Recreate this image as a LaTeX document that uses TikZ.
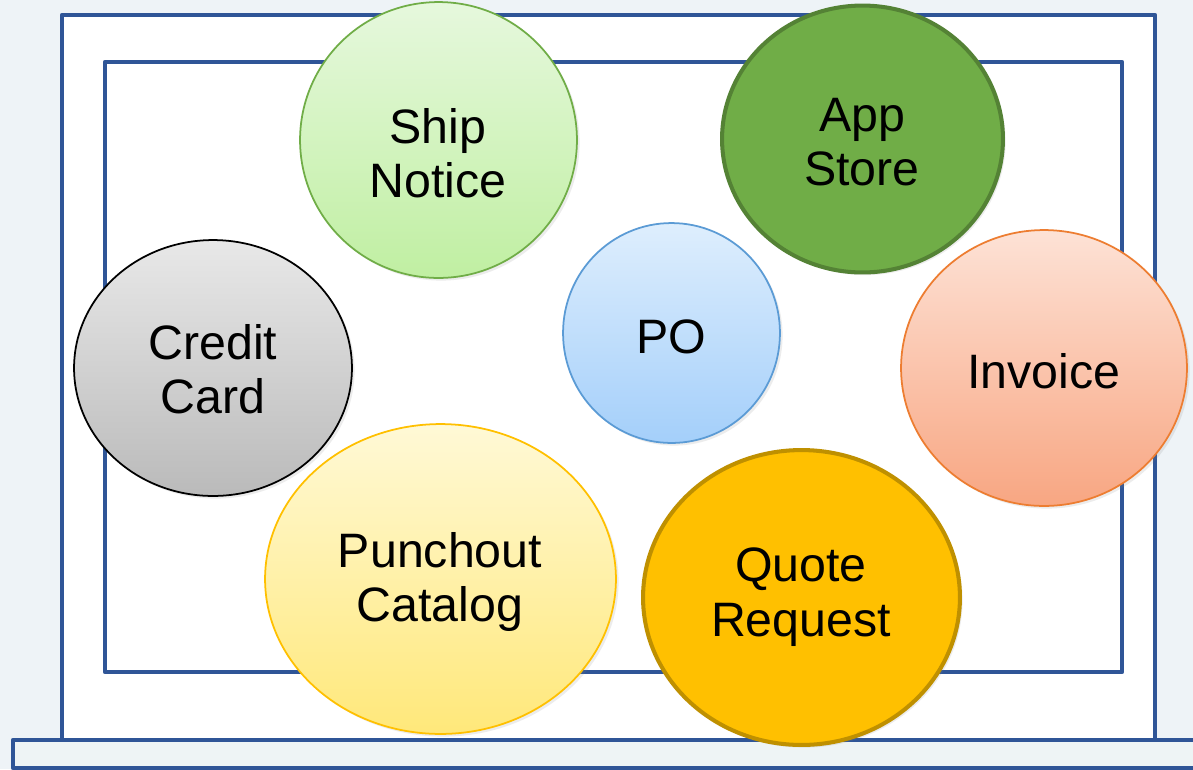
\documentclass[tikz,border=0pt]{standalone}
\usepackage{fontspec}
\setmainfont{Liberation Sans}
\usetikzlibrary{shapes.geometric,shadows}

\definecolor{backblue}{HTML}{EEF3F7}
\definecolor{baseblue}{HTML}{EEF4F5}
\definecolor{frameblue}{HTML}{2F5597}

\begin{document}
\begin{tikzpicture}[x=0.02cm,y=-0.02cm,
  frame/.style={draw=frameblue,line width=2.6pt,line join=round},
  bubble/.style 2 args={ellipse,inner sep=0pt,
    minimum width=#1*0.04cm,minimum height=#2*0.04cm,
    drop shadow={opacity=0.15,shadow xshift=1.5pt,shadow yshift=-1.5pt}},
  txt/.style={align=center,font=\fontsize{27.5}{31}\selectfont}]

\useasboundingbox (0,0) rectangle (1193,769);
\clip (0,0) rectangle (1193,769);
\fill[backblue] (0,0) rectangle (1193,769);

%laptop screen
\filldraw[frame,fill=white] (62,15) rectangle (1155,740);
\draw[frame] (105,62) rectangle (1122,672);
%laptop base
\filldraw[frame,fill=baseblue] (13,740) rectangle (1220,768);

%ship notice
\node[bubble={138.5}{138},top color={rgb,255:red,230;green,248;blue,221},
  bottom color={rgb,255:red,192;green,239;blue,162},
  draw={rgb,255:red,112;green,173;blue,71},line width=1pt] (ship) at (438.5,140) {};
\node[txt] (shiptxt) at (438,153) {Ship\\Notice};
%app store
\node[bubble={140.5}{133.5},fill={rgb,255:red,112;green,173;blue,71},
  draw={rgb,255:red,84;green,130;blue,53},line width=2.3pt] (app) at (862.5,139) {};
\node[txt] (apptxt) at (862,142) {App\\Store};
%credit card
\node[bubble={139}{128},top color=black!9,bottom color=black!27,
  draw=black,line width=1pt] (card) at (213,368) {};
\node[txt] (cardtxt) at (213,369) {Credit\\Card};
%po
\node[bubble={108.5}{110},top color={rgb,255:red,222;green,238;blue,253},
  bottom color={rgb,255:red,164;green,207;blue,250},
  draw={rgb,255:red,91;green,155;blue,213},line width=1pt] (po) at (671.5,333) {};
\node[txt] (potxt) at (671,337) {PO};
%invoice
\node[bubble={143}{138},top color={rgb,255:red,253;green,226;blue,214},
  bottom color={rgb,255:red,248;green,166;blue,130},
  draw={rgb,255:red,237;green,125;blue,49},line width=1pt] (invoice) at (1044,368) {};
\node[txt] (invoicetxt) at (1044,371) {Invoice};
%punchout catalog
\node[bubble={175.5}{155},top color={rgb,255:red,255;green,249;blue,214},
  bottom color={rgb,255:red,255;green,232;blue,122},
  draw={rgb,255:red,255;green,192;blue,0},line width=1pt] (punch) at (440.5,579) {};
\node[txt] (punchtxt) at (440,582) {Punchout\\Catalog};
%quote request
\node[bubble={158.5}{147.5},fill={rgb,255:red,255;green,192;blue,0},
  draw={rgb,255:red,191;green,144;blue,0},line width=2.3pt] (quote) at (801.5,597.5) {};
\node[txt] (quotetxt) at (801,597) {Quote\\Request};

\end{tikzpicture}
\end{document}
